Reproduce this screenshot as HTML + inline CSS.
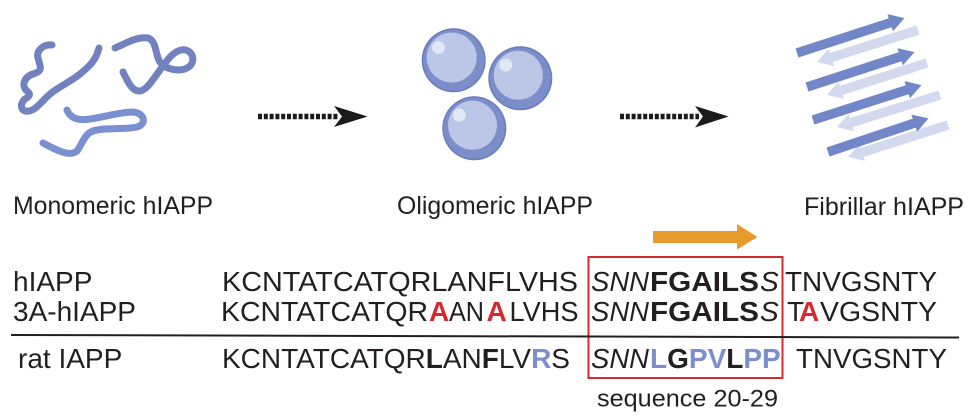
<!DOCTYPE html>
<html>
<head>
<meta charset="utf-8">
<style>
  html,body{margin:0;padding:0;background:#fff;}
  svg{display:block;}
  text{font-family:"Liberation Sans", Arial, sans-serif; fill:#231f20;}
  .b{font-weight:bold;}
  .i{font-style:italic;}
  .red{fill:#d7282f;font-weight:bold;}
  .blue{fill:#7b8fcc;font-weight:bold;}
</style>
</head>
<body>
<svg width="974" height="416" viewBox="0 0 974 416" xmlns="http://www.w3.org/2000/svg">
  <rect width="974" height="416" fill="#fff"/>

  <!-- Monomer squiggles -->
  <g fill="none" stroke-linecap="round" stroke-linejoin="round" stroke-width="7">
    <path stroke="#7282be" d="M52,45 C44,44 36,50 38,58 C40,66 44,71 33,74 C24,77 21,86 27,91 C31,94 30,96 25,99 C19,104 21,113 29,111 C36,110 42,101 50,94 C60,86 70,82 80,74 C90,66 96,60 99,48"/>
    <path stroke="#7282be" d="M115,48 C125,44 137,36 148,38 C157,41 155,55 160,62 C166,70 182,73 190,66 C197,58 190,48 181,50 C172,52 166,62 160,70 C154,78 147,90 140,91 C132,92 127,80 123,72"/>
    <path stroke="#7a90d0" d="M67,110 C70,118 78,121 90,119 C105,117 120,112 133,112 C145,113 147,124 137,127 C125,130 105,127 93,131 C84,134 82,145 77,151 C70,157 58,151 43,143"/>
  </g>

  <!-- Dotted arrows -->
  <line x1="258" y1="116.5" x2="338" y2="116.5" stroke="#1a1a1a" stroke-width="5.5" stroke-dasharray="4 1.8"/>
  <polygon points="334,106 367.5,116.5 334,127 342,116.5" fill="#1a1a1a"/>
  <line x1="620" y1="116.5" x2="699" y2="116.5" stroke="#1a1a1a" stroke-width="5.5" stroke-dasharray="4 1.8"/>
  <polygon points="695,106 728.5,116.5 695,127.5 703,116.5" fill="#1a1a1a"/>

  <!-- Oligomer spheres -->
  <g>
    <circle cx="453.7" cy="60.3" r="32" fill="#6a7cba"/>
    <circle cx="453.7" cy="60.3" r="30.5" fill="#7b8eca"/>
    <circle cx="451.7" cy="57.5" r="25" fill="#bcc6e6"/>
    <circle cx="438.5" cy="47.5" r="6.5" fill="#e2e7f5"/>

    <circle cx="520.3" cy="78.3" r="32" fill="#6a7cba"/>
    <circle cx="520.3" cy="78.3" r="30.5" fill="#7b8eca"/>
    <circle cx="518.3" cy="75.3" r="24.5" fill="#bcc6e6"/>
    <circle cx="505.7" cy="65" r="6.5" fill="#e2e7f5"/>

    <circle cx="474.3" cy="128.3" r="32" fill="#6a7cba"/>
    <circle cx="474.3" cy="128.3" r="30.5" fill="#7b8eca"/>
    <circle cx="472.5" cy="125.3" r="24.5" fill="#bcc6e6"/>
    <circle cx="459.3" cy="115" r="6.5" fill="#e2e7f5"/>
  </g>

  <!-- Fibril arrows: light (behind) -->
  <g fill="#d3daf0">
    <polygon transform="translate(918,30) rotate(162.4)" points="0,-4.75 91,-4.75 91,-9 106,0 91,9 91,4.75 0,4.75"/>
    <polygon transform="translate(927,63) rotate(162.3)" points="0,-4.75 90,-4.75 90,-9 105,0 90,9 90,4.75 0,4.75"/>
    <polygon transform="translate(940,95) rotate(162.7)" points="0,-4.75 93,-4.75 93,-9 108,0 93,9 93,4.75 0,4.75"/>
    <polygon transform="translate(948,125) rotate(162.3)" points="0,-4.75 90,-4.75 90,-9 105,0 90,9 90,4.75 0,4.75"/>
  </g>
  <!-- Fibril arrows: dark -->
  <g fill="#7287c7">
    <polygon transform="translate(797,53) rotate(-18)" points="0,-4.75 98,-4.75 98,-9 113,0 98,9 98,4.75 0,4.75"/>
    <polygon transform="translate(807,87) rotate(-18)" points="0,-4.75 98,-4.75 98,-9 113,0 98,9 98,4.75 0,4.75"/>
    <polygon transform="translate(813,120) rotate(-17.8)" points="0,-4.75 99,-4.75 99,-9 114,0 99,9 99,4.75 0,4.75"/>
    <polygon transform="translate(828,152) rotate(-18.5)" points="0,-4.75 91,-4.75 91,-9 106,0 91,9 91,4.75 0,4.75"/>
  </g>

  <!-- Top labels -->
  <text x="13" y="214" font-size="25" textLength="200" lengthAdjust="spacingAndGlyphs">Monomeric hIAPP</text>
  <text x="397" y="214" font-size="25" textLength="196" lengthAdjust="spacingAndGlyphs">Oligomeric hIAPP</text>
  <text x="804" y="215" font-size="25" textLength="160" lengthAdjust="spacingAndGlyphs">Fibrillar hIAPP</text>

  <!-- Orange arrow -->
  <polygon points="653,231 737,231 737,224 757.5,237 737,249.5 737,243 653,243" fill="#e89a2c"/>

  <!-- Red box -->
  <rect x="588.5" y="257" width="194" height="121" fill="none" stroke="#d62b2e" stroke-width="2"/>

  <!-- Separator line -->
  <line x1="11" y1="335" x2="959" y2="337.5" stroke="#231f20" stroke-width="2"/>

  <!-- Row 1 -->
  <g font-size="28">
    <text x="13" y="291">hIAPP</text>
    <text x="222" y="291" textLength="356" lengthAdjust="spacingAndGlyphs">KCNTATCATQRLANFLVHS</text>
    <text x="591" y="291" class="i" textLength="58" lengthAdjust="spacingAndGlyphs">SNN</text>
    <text x="650" y="291" class="b" textLength="109" lengthAdjust="spacingAndGlyphs">FGAILS</text>
    <text x="760" y="291" class="i">S</text>
    <text x="785" y="291" textLength="152" lengthAdjust="spacingAndGlyphs">TNVGSNTY</text>
  </g>

  <!-- Row 2 -->
  <g font-size="28">
    <text x="13" y="321">3A-hIAPP</text>
    <text x="221" y="321" textLength="207" lengthAdjust="spacingAndGlyphs">KCNTATCATQR</text>
    <text x="429" y="321" class="red">A</text>
    <text x="449" y="321" textLength="35" lengthAdjust="spacingAndGlyphs">AN</text>
    <text x="486.5" y="321" class="red">A</text>
    <text x="509.5" y="321" textLength="69" lengthAdjust="spacingAndGlyphs">LVHS</text>
    <text x="591" y="321" class="i" textLength="58" lengthAdjust="spacingAndGlyphs">SNN</text>
    <text x="650" y="321" class="b" textLength="109" lengthAdjust="spacingAndGlyphs">FGAILS</text>
    <text x="760" y="321" class="i">S</text>
    <text x="787" y="321">T</text>
    <text x="799" y="321" class="red">A</text>
    <text x="820" y="321" textLength="117" lengthAdjust="spacingAndGlyphs">VGSNTY</text>
  </g>

  <!-- Row 3 -->
  <g font-size="28">
    <text x="18" y="368">rat IAPP</text>
    <text x="222" y="368">KCNTATCATQR<tspan class="b">L</tspan>AN<tspan class="b">F</tspan>LV<tspan class="blue">R</tspan>S</text>
    <text x="591" y="368" class="i" textLength="58" lengthAdjust="spacingAndGlyphs">SNN</text>
    <text x="650" y="368" class="b"><tspan class="blue">L</tspan>G<tspan class="blue">PV</tspan>L<tspan class="blue">PP</tspan></text>
    <text x="796" y="368" textLength="151" lengthAdjust="spacingAndGlyphs">TNVGSNTY</text>
  </g>

  <!-- sequence label -->
  <text x="597" y="406.5" font-size="24.5" textLength="181" lengthAdjust="spacingAndGlyphs">sequence 20-29</text>
</svg>
</body>
</html>
